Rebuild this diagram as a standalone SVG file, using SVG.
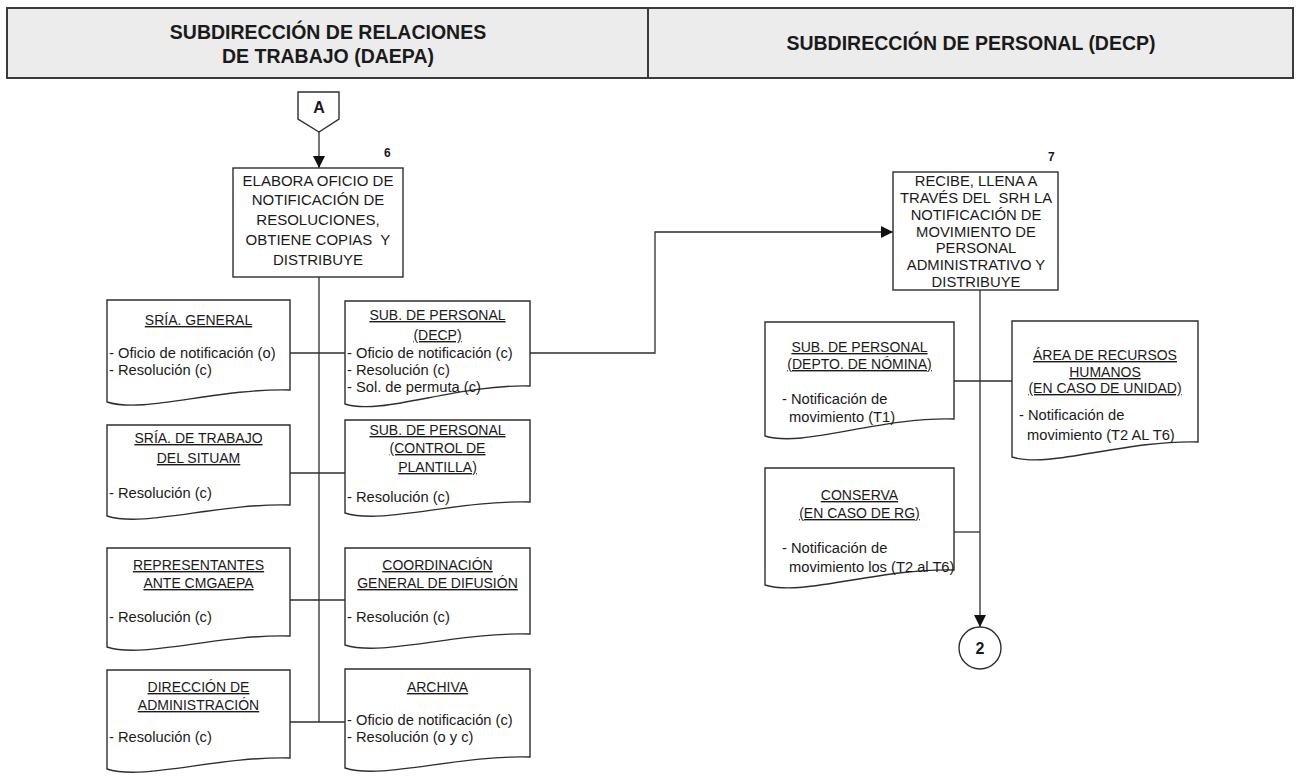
<svg xmlns="http://www.w3.org/2000/svg" width="1299" height="777" viewBox="0 0 1299 777">
<defs>
<style>
text{font-family:"Liberation Sans",Arial,sans-serif;fill:#1a1a1a;white-space:pre}
.hd{font-size:19.5px;font-weight:bold;text-anchor:middle}
.bx{font-size:15px;text-anchor:middle}
.b7{font-size:14.8px;text-anchor:middle}
.tt{font-size:14px;text-anchor:middle;text-decoration:underline}
.li{font-size:14.7px}
.num{font-size:12px;font-weight:bold}
.shape{fill:#ffffff;stroke:#2e2e2e;stroke-width:1.4}
.ln{fill:none;stroke:#2e2e2e;stroke-width:1.3}
</style>
<marker id="arr" viewBox="0 0 12 12" refX="12" refY="6" markerWidth="12" markerHeight="12" markerUnits="userSpaceOnUse" orient="auto">
<path d="M0,0 L12,6 L0,12 Z" fill="#111"/>
</marker>
</defs>
<rect width="1299" height="777" fill="#ffffff"/>

<g id="header">
<rect x="7" y="8" width="1286" height="70" fill="#ececec" stroke="#3a3a3a" stroke-width="2"/>
<line x1="648" y1="8" x2="648" y2="78" stroke="#3a3a3a" stroke-width="2"/>
<text class="hd" x="328" y="39">SUBDIRECCIÓN DE RELACIONES</text>
<text class="hd" x="328" y="63">DE TRABAJO (DAEPA)</text>
<text class="hd" x="971" y="50">SUBDIRECCIÓN DE PERSONAL (DECP)</text>
</g>

<g id="connectors">
<line class="ln" x1="319" y1="132" x2="319" y2="168" marker-end="url(#arr)"/>
<line class="ln" x1="319" y1="277" x2="319" y2="722"/>
<line class="ln" x1="290" y1="353" x2="345" y2="353"/>
<line class="ln" x1="290" y1="473" x2="345" y2="473"/>
<line class="ln" x1="290" y1="600" x2="345" y2="600"/>
<line class="ln" x1="290" y1="722" x2="345" y2="722"/>
<polyline class="ln" points="530,353 655,353 655,232 893,232" marker-end="url(#arr)"/>
<line class="ln" x1="980" y1="290" x2="980" y2="627" marker-end="url(#arr)"/>
<line class="ln" x1="954" y1="381" x2="1012" y2="381"/>
<line class="ln" x1="954" y1="532" x2="980" y2="532"/>
</g>

<g id="connector-A">
<polygon class="shape" points="298,92 339,92 339,119 319,132 298,119"/>
<text x="319" y="113" style="font-size:16px;font-weight:bold;text-anchor:middle">A</text>
</g>

<g id="step6">
<rect class="shape" x="233" y="168" width="170" height="109"/>
<text class="num" x="384" y="157">6</text>
<text class="bx" x="318" y="186">ELABORA OFICIO DE</text>
<text class="bx" x="318" y="205">NOTIFICACIÓN DE</text>
<text class="bx" x="318" y="225">RESOLUCIONES,</text>
<text class="bx" x="318" y="245">OBTIENE COPIAS  Y</text>
<text class="bx" x="318" y="265">DISTRIBUYE</text>
</g>

<g id="doc-sria-general">
<path class="shape" d="M107,300 H290 V390 C216.8,388 143.6,414 107,402 Z"/>
<text class="tt" x="198.5" y="325">SRÍA. GENERAL</text>
<text class="li" x="109" y="358">- Oficio de notificación (o)</text>
<text class="li" x="109" y="375">- Resolución (c)</text>
</g>

<g id="doc-sub-personal-decp">
<path class="shape" d="M345,301 H530 V386 C456,384 382,416 345,404 Z"/>
<text class="tt" x="437.5" y="320">SUB. DE PERSONAL</text>
<text class="tt" x="437.5" y="340">(DECP)</text>
<text class="li" x="347" y="358">- Oficio de notificación (c)</text>
<text class="li" x="347" y="375">- Resolución (c)</text>
<text class="li" x="347" y="392">- Sol. de permuta (c)</text>
</g>

<g id="doc-sria-trabajo">
<path class="shape" d="M107,425 H290 V505 C216.8,503 143.6,528 107,516 Z"/>
<text class="tt" x="198.5" y="443">SRÍA. DE TRABAJO</text>
<text class="tt" x="198.5" y="463">DEL SITUAM</text>
<text class="li" x="109" y="498">- Resolución (c)</text>
</g>

<g id="doc-control-plantilla">
<path class="shape" d="M345,420 H530 V502 C456,500 382,525 345,513 Z"/>
<text class="tt" x="437.5" y="435">SUB. DE PERSONAL</text>
<text class="tt" x="437.5" y="453">(CONTROL DE</text>
<text class="tt" x="437.5" y="472">PLANTILLA)</text>
<text class="li" x="347" y="502">- Resolución (c)</text>
</g>

<g id="doc-representantes">
<path class="shape" d="M107,548 H290 V636 C216.8,634 143.6,659 107,647 Z"/>
<text class="tt" x="198.5" y="570">REPRESENTANTES</text>
<text class="tt" x="198.5" y="588">ANTE CMGAEPA</text>
<text class="li" x="109" y="622">- Resolución (c)</text>
</g>

<g id="doc-coordinacion">
<path class="shape" d="M345,548 H530 V634 C456,632 382,657 345,645 Z"/>
<text class="tt" x="437.5" y="570">COORDINACIÓN</text>
<text class="tt" x="437.5" y="588">GENERAL DE DIFUSIÓN</text>
<text class="li" x="347" y="622">- Resolución (c)</text>
</g>

<g id="doc-direccion">
<path class="shape" d="M107,670 H290 V758 C216.8,756 143.6,781 107,769 Z"/>
<text class="tt" x="198.5" y="692">DIRECCIÓN DE</text>
<text class="tt" x="198.5" y="710">ADMINISTRACIÓN</text>
<text class="li" x="109" y="742">- Resolución (c)</text>
</g>

<g id="doc-archiva">
<path class="shape" d="M345,669 H530 V757 C456,755 382,780 345,768 Z"/>
<text class="tt" x="437.5" y="692">ARCHIVA</text>
<text class="li" x="347" y="725">- Oficio de notificación (c)</text>
<text class="li" x="347" y="742">- Resolución (o y c)</text>
</g>

<g id="step7">
<rect class="shape" x="893" y="172" width="165" height="118"/>
<text class="num" x="1048" y="161">7</text>
<text class="b7" x="976" y="186">RECIBE, LLENA A</text>
<text class="b7" x="976" y="203">TRAVÉS DEL  SRH LA</text>
<text class="b7" x="976" y="220">NOTIFICACIÓN DE</text>
<text class="b7" x="976" y="237">MOVIMIENTO DE</text>
<text class="b7" x="976" y="253">PERSONAL</text>
<text class="b7" x="976" y="270">ADMINISTRATIVO Y</text>
<text class="b7" x="976" y="287">DISTRIBUYE</text>
</g>

<g id="doc-nomina">
<path class="shape" d="M765,322 H954 V419 C878.4,417 802.8,448 765,436 Z"/>
<text class="tt" x="859.5" y="352">SUB. DE PERSONAL</text>
<text class="tt" x="859.5" y="369">(DEPTO. DE NÓMINA)</text>
<text class="li" x="782" y="404">- Notificación de</text>
<text class="li" x="789" y="422">movimiento (T1)</text>
</g>

<g id="doc-recursos-humanos">
<path class="shape" d="M1012,321 H1198 V442 C1123.6,440 1049.2,469 1012,457 Z"/>
<text class="tt" x="1105" y="360">ÁREA DE RECURSOS</text>
<text class="tt" x="1105" y="377">HUMANOS</text>
<text class="tt" x="1105" y="393">(EN CASO DE UNIDAD)</text>
<text class="li" x="1019" y="420">- Notificación de</text>
<text class="li" x="1027" y="440">movimiento (T2 AL T6)</text>
</g>

<g id="doc-conserva">
<path class="shape" d="M765,468 H954 V570 C878.4,568 802.8,597 765,585 Z"/>
<text class="tt" x="859.5" y="500">CONSERVA</text>
<text class="tt" x="859.5" y="518">(EN CASO DE RG)</text>
<text class="li" x="782" y="553">- Notificación de</text>
<text class="li" x="789" y="572">movimiento los (T2 al T6)</text>
</g>

<g id="connector-2">
<circle class="shape" cx="980" cy="648" r="21"/>
<text x="980" y="654" style="font-size:16px;font-weight:bold;text-anchor:middle">2</text>
</g>
</svg>
